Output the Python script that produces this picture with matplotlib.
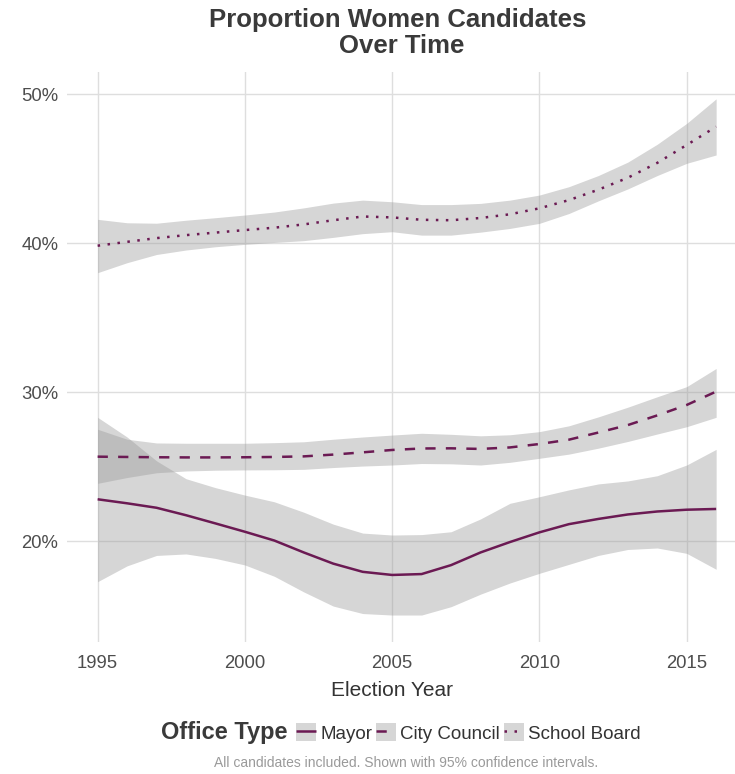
import matplotlib
matplotlib.use("Agg")
import matplotlib.pyplot as plt
from matplotlib.lines import Line2D
from matplotlib.patches import Patch
from matplotlib.ticker import FuncFormatter

plt.rcParams['font.family'] = ['Liberation Sans', 'DejaVu Sans']

# Election years (smoothed fit evaluated yearly)
years = list(range(1995, 2017))

# Mayor: fit, upper and lower 95% CI (percent)
mayor = [22.82, 22.55, 22.25, 21.75, 21.2, 20.64, 20.05, 19.25, 18.5, 17.95, 17.74,
         17.8, 18.4, 19.25, 19.95, 20.6, 21.15, 21.5, 21.8, 22.0, 22.12, 22.17]
mayor_hi = [28.32, 27.0, 25.4, 24.2, 23.6, 23.1, 22.65, 21.95, 21.15, 20.55, 20.42,
            20.45, 20.64, 21.5, 22.55, 22.99, 23.45, 23.85, 24.05, 24.4, 25.12, 26.17]
mayor_lo = [17.29, 18.35, 19.05, 19.15, 18.85, 18.41, 17.65, 16.6, 15.65, 15.15, 15.05,
            15.05, 15.61, 16.45, 17.2, 17.85, 18.45, 19.05, 19.45, 19.55, 19.19, 18.12]

# City Council
council = [25.68, 25.66, 25.64, 25.63, 25.63, 25.64, 25.66, 25.7, 25.82, 25.97, 26.13,
           26.23, 26.24, 26.2, 26.3, 26.53, 26.82, 27.3, 27.8, 28.45, 29.15, 30.05]
council_hi = [27.52, 26.85, 26.6, 26.58, 26.58, 26.58, 26.62, 26.68, 26.85, 27.0, 27.13,
              27.25, 27.18, 27.08, 27.15, 27.36, 27.75, 28.35, 29.0, 29.7, 30.38, 31.6]
council_lo = [23.89, 24.28, 24.6, 24.72, 24.77, 24.79, 24.8, 24.83, 24.95, 25.05, 25.12,
              25.22, 25.2, 25.12, 25.3, 25.57, 25.85, 26.25, 26.7, 27.2, 27.69, 28.32]

# School Board
school = [39.84, 40.1, 40.35, 40.55, 40.72, 40.89, 41.05, 41.27, 41.55, 41.8, 41.74,
          41.58, 41.55, 41.7, 41.95, 42.35, 42.9, 43.6, 44.4, 45.4, 46.6, 47.83]
school_hi = [41.61, 41.38, 41.35, 41.55, 41.72, 41.9, 42.1, 42.38, 42.7, 42.9, 42.79,
             42.6, 42.6, 42.68, 42.9, 43.24, 43.8, 44.55, 45.45, 46.65, 48.05, 49.7]
school_lo = [38.03, 38.7, 39.25, 39.55, 39.77, 39.93, 40.06, 40.18, 40.4, 40.65, 40.78,
             40.55, 40.55, 40.75, 41.0, 41.34, 42.0, 42.85, 43.65, 44.55, 45.37, 45.93]

labels = ['Mayor', 'City Council', 'School Board']
x_ticks = [1995, 2000, 2005, 2010, 2015]
y_ticks = [20, 30, 40, 50]

purple = '#6b1a53'
band = '#999999'
W, H = 735, 774

fig = plt.figure(figsize=(W / 100, H / 100), dpi=100)
ax = fig.add_axes([66.7 / W, (H - 642) / H, (735 - 66.7) / W, (642 - 72) / H])

styles = [(0, ()), (0, (4.1, 4.1)), (0, (1, 3))]
series = [(mayor, mayor_lo, mayor_hi), (council, council_lo, council_hi),
          (school, school_lo, school_hi)]
for (fit, lo, hi), ls in zip(series, styles):
    ax.fill_between(years, lo, hi, color=band, alpha=0.4, linewidth=0, zorder=2)
    ax.plot(years, fit, color=purple, linewidth=1.8, linestyle=ls, zorder=3)

ax.set_xlim(1993.95, 2016.64)
ax.set_ylim(13.24, 51.5)
ax.set_xticks(x_ticks)
ax.set_yticks(y_ticks)
ax.yaxis.set_major_formatter(FuncFormatter(lambda v, p: f'{v:.0f}%'))
ax.tick_params(length=0, labelsize=13.3, labelcolor='#4d4d4d')
ax.tick_params(axis='x', pad=9)
ax.tick_params(axis='y', pad=6)
ax.grid(True, color='#dedede', linewidth=1.0, zorder=0)
ax.set_axisbelow(True)
for s in ax.spines.values():
    s.set_visible(False)

fig.text(398 / W, 1 - 20 / H, 'Proportion Women Candidates', ha='center', va='center',
         fontsize=18.5, fontweight='bold', color='#3a3a3a')
fig.text(402 / W, 1 - 46 / H, 'Over Time', ha='center', va='center',
         fontsize=18.5, fontweight='bold', color='#3a3a3a')

fig.text(392 / W, 1 - 690 / H, 'Election Year', ha='center', va='center',
         fontsize=15, color='#333333')

fig.text(161 / W, 1 - 733 / H, 'Office Type', ha='left', va='center',
         fontsize=17, fontweight='bold', color='#3a3a3a')
handles = [(Patch(facecolor='#d6d6d6', edgecolor='none'),
            Line2D([], [], color=purple, linewidth=1.8, linestyle=ls)) for ls in styles]
fig.legend(handles, labels, loc='center left', bbox_to_anchor=(296 / W, 1 - 733 / H),
           ncol=3, frameon=False, fontsize=13.5, handlelength=1.05, handleheight=1.1,
           handletextpad=0.25, columnspacing=0.2, borderpad=0, borderaxespad=0,
           labelcolor='#333333')

fig.text(406 / W, 1 - 763 / H,
         'All candidates included. Shown with 95% confidence intervals.',
         ha='center', va='center', fontsize=10, color='#9a9a9a')

fig.savefig('out.png', dpi=100)
